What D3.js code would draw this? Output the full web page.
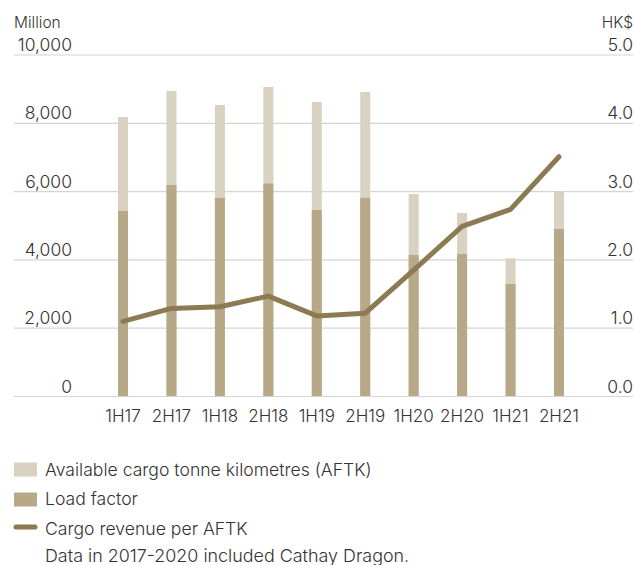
<!DOCTYPE html>
<html>
<head>
<meta charset="utf-8">
<script src="https://cdn.jsdelivr.net/npm/d3@7"></script>
<style>
  html, body { margin: 0; padding: 0; background: #fff; }
  svg { display: block; }
  text { font-family: Inter, "Noto Sans", sans-serif; font-weight: 300; fill: #333; }
</style>
</head>
<body>
<svg id="chart" width="635" height="565"></svg>
<script>
const categories = ["1H17","2H17","1H18","2H18","1H19","2H19","1H20","2H20","1H21","2H21"];
const aftk = [8185, 8946, 8536, 9063, 8624, 8916, 5930, 5373, 4047, 6018];
const loadFactor = [5432, 6193, 5813, 6237, 5461, 5815, 4143, 4173, 3294, 4905];
const revenuePerAftk = [1.10, 1.29, 1.315, 1.47, 1.18, 1.22, 1.85, 2.49, 2.74, 3.51];
const leftTicks = [0, 2000, 4000, 6000, 8000, 10000];
const rightTicks = [0, 1, 2, 3, 4, 5];
const legendItems = ["Available cargo tonne kilometres (AFTK)", "Load factor", "Cargo revenue per AFTK"];
const note = "Data in 2017-2020 included Cathay Dragon.";

const colLight = "#d9d1c1", colDark = "#b7a888", colLine = "#8c7b52", colGrid = "#d4d4d4";

const svg = d3.select("#chart");
const x = d3.scaleBand().domain(categories).range([98.8, 583.2]);
const yL = d3.scaleLinear().domain([0, 10000]).range([396.5, 55]);
const yR = d3.scaleLinear().domain([0, 5]).range([396.5, 55]);
const barW = 10;

// gridlines
svg.append("g").selectAll("line").data(leftTicks).join("line")
  .attr("x1", 14).attr("x2", 633)
  .attr("y1", d => yL(d)).attr("y2", d => yL(d))
  .attr("stroke", colGrid).attr("stroke-width", 1.2);

// left tick labels
svg.append("g").selectAll("text").data(leftTicks).join("text")
  .attr("x", 72).attr("y", d => yL(d) - 4)
  .attr("text-anchor", "end").attr("font-size", 17.5)
  .text(d => d3.format(",")(d));

// right tick labels
svg.append("g").selectAll("text").data(rightTicks).join("text")
  .attr("x", 633).attr("y", d => yR(d) - 4)
  .attr("text-anchor", "end").attr("font-size", 17.5)
  .text(d => d3.format(".1f")(d));

svg.append("text").attr("x", 14).attr("y", 28).attr("font-size", 15.5).text("Million");
svg.append("text").attr("x", 633).attr("y", 28).attr("text-anchor", "end").attr("font-size", 15.5).text("HK$");

// bars
const cx = d => x(d) + x.bandwidth() / 2;
svg.append("g").selectAll("rect").data(categories).join("rect")
  .attr("x", d => cx(d) - barW / 2).attr("width", barW)
  .attr("y", (d, i) => yL(aftk[i])).attr("height", (d, i) => yL(0) - yL(aftk[i]))
  .attr("fill", colLight);
svg.append("g").selectAll("rect").data(categories).join("rect")
  .attr("x", d => cx(d) - barW / 2).attr("width", barW)
  .attr("y", (d, i) => yL(loadFactor[i])).attr("height", (d, i) => yL(0) - yL(loadFactor[i]))
  .attr("fill", colDark);

// redraw baseline on top
svg.append("line").attr("x1", 14).attr("x2", 633).attr("y1", yL(0)).attr("y2", yL(0))
  .attr("stroke", colGrid).attr("stroke-width", 1.2);

// line
const line = d3.line().x((d, i) => cx(categories[i])).y(d => yR(d));
svg.append("path").datum(revenuePerAftk).attr("d", line)
  .attr("fill", "none").attr("stroke", colLine).attr("stroke-width", 5)
  .attr("stroke-linecap", "round").attr("stroke-linejoin", "round");

// x labels
svg.append("g").selectAll("text").data(categories).join("text")
  .attr("x", d => cx(d)).attr("y", 421.5)
  .attr("text-anchor", "middle").attr("font-size", 17)
  .text(d => d);

// legend
const lg = svg.append("g");
lg.append("rect").attr("x", 14).attr("y", 462.5).attr("width", 23).attr("height", 14).attr("fill", colLight);
lg.append("rect").attr("x", 14).attr("y", 492.5).attr("width", 23).attr("height", 14).attr("fill", colDark);
lg.append("line").attr("x1", 16).attr("x2", 35).attr("y1", 527).attr("y2", 527)
  .attr("stroke", colLine).attr("stroke-width", 5).attr("stroke-linecap", "round");
const ly = [476, 505, 535];
legendItems.forEach((t, i) => {
  lg.append("text").attr("x", 45).attr("y", ly[i]).attr("font-size", 17.6).text(t);
});
lg.append("text").attr("x", 45).attr("y", 562).attr("font-size", 17.9).text(note);
</script>
</body>
</html>
